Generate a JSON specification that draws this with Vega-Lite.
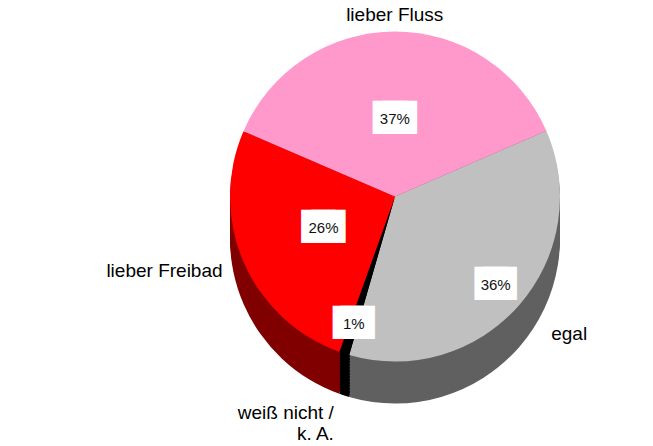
{
  "$schema": "https://vega.github.io/schema/vega-lite/v6.json",
  "width": 653,
  "height": 446,
  "autosize": {"type": "fit", "contains": "padding"},
  "padding": {"left": 137, "right": 0, "top": 0, "bottom": 42},
  "background": "white",
  "view": {"stroke": null},
  "config": {"font": "Liberation Sans"},
  "data": {"values": [
    {"cat": "egal", "idx": 0, "share": 0.36, "label": "egal"},
    {"cat": "weiß nicht", "idx": 1, "share": 0.01, "label": "weiß nicht /\nk. A."},
    {"cat": "lieber Freibad", "idx": 2, "share": 0.26, "label": "lieber Freibad"},
    {"cat": "lieber Fluss", "idx": 3, "share": 0.37, "label": "lieber Fluss"}
  ]},
  "encoding": {
    "theta": {"field": "share", "type": "quantitative", "stack": true, "scale": {"range": [1.161, 7.444]}},
    "order": {"field": "idx", "type": "quantitative"},
    "detail": {"field": "cat", "type": "nominal"}
  },
  "layer": [
    {"mark": {"type": "arc", "radius": 165, "yOffset": 42}, "encoding": {"fill": {"field": "cat", "type": "nominal", "legend": null, "scale": {"domain": ["egal", "weiß nicht", "lieber Freibad", "lieber Fluss"], "range": ["#606060", "#000000", "#800000", "#804d66"]}}}},
    {"mark": {"type": "arc", "radius": 165, "yOffset": 39}, "encoding": {"fill": {"field": "cat", "type": "nominal", "legend": null}}},
    {"mark": {"type": "arc", "radius": 165, "yOffset": 36}, "encoding": {"fill": {"field": "cat", "type": "nominal", "legend": null}}},
    {"mark": {"type": "arc", "radius": 165, "yOffset": 33}, "encoding": {"fill": {"field": "cat", "type": "nominal", "legend": null}}},
    {"mark": {"type": "arc", "radius": 165, "yOffset": 30}, "encoding": {"fill": {"field": "cat", "type": "nominal", "legend": null}}},
    {"mark": {"type": "arc", "radius": 165, "yOffset": 27}, "encoding": {"fill": {"field": "cat", "type": "nominal", "legend": null}}},
    {"mark": {"type": "arc", "radius": 165, "yOffset": 24}, "encoding": {"fill": {"field": "cat", "type": "nominal", "legend": null}}},
    {"mark": {"type": "arc", "radius": 165, "yOffset": 21}, "encoding": {"fill": {"field": "cat", "type": "nominal", "legend": null}}},
    {"mark": {"type": "arc", "radius": 165, "yOffset": 18}, "encoding": {"fill": {"field": "cat", "type": "nominal", "legend": null}}},
    {"mark": {"type": "arc", "radius": 165, "yOffset": 15}, "encoding": {"fill": {"field": "cat", "type": "nominal", "legend": null}}},
    {"mark": {"type": "arc", "radius": 165, "yOffset": 12}, "encoding": {"fill": {"field": "cat", "type": "nominal", "legend": null}}},
    {"mark": {"type": "arc", "radius": 165, "yOffset": 9}, "encoding": {"fill": {"field": "cat", "type": "nominal", "legend": null}}},
    {"mark": {"type": "arc", "radius": 165, "yOffset": 6}, "encoding": {"fill": {"field": "cat", "type": "nominal", "legend": null}}},
    {"mark": {"type": "arc", "radius": 165, "yOffset": 3}, "encoding": {"fill": {"field": "cat", "type": "nominal", "legend": null}}},
    {"mark": {"type": "arc", "radius": 165}, "encoding": {"color": {"field": "cat", "type": "nominal", "legend": null, "scale": {"domain": ["egal", "weiß nicht", "lieber Freibad", "lieber Fluss"], "range": ["#c0c0c0", "#000000", "#ff0000", "#ff99cc"]}}}},
    {"mark": {"type": "text", "radius": 78, "font": "DejaVu Sans Mono", "fontSize": 28, "dx": -5, "baseline": "middle", "align": "center", "fill": "white"},
     "encoding": {"text": {"condition": {"test": "datum.idx >= 2", "value": "██"}, "value": ""}}},
    {"mark": {"type": "text", "radius": 78, "font": "DejaVu Sans Mono", "fontSize": 28, "dx": 5, "baseline": "middle", "align": "center", "fill": "white"},
     "encoding": {"text": {"condition": {"test": "datum.idx >= 2", "value": "██"}, "value": ""}}},
    {"mark": {"type": "text", "radius": 78, "fontSize": 15, "baseline": "middle", "align": "center", "fill": "#111111"},
     "encoding": {"text": {"condition": {"test": "datum.idx >= 2", "field": "share", "type": "quantitative", "format": ".0%"}, "value": ""}}},
    {"mark": {"type": "text", "radius": 134, "font": "DejaVu Sans Mono", "fontSize": 28, "dx": -4, "baseline": "middle", "align": "center", "fill": "white"},
     "encoding": {"text": {"condition": {"test": "datum.idx < 2", "value": "██"}, "value": ""}}},
    {"mark": {"type": "text", "radius": 134, "font": "DejaVu Sans Mono", "fontSize": 28, "dx": 4, "baseline": "middle", "align": "center", "fill": "white"},
     "encoding": {"text": {"condition": {"test": "datum.idx < 2", "value": "██"}, "value": ""}}},
    {"mark": {"type": "text", "radius": 134, "fontSize": 15, "baseline": "middle", "align": "center", "fill": "#111111"},
     "encoding": {"text": {"condition": {"test": "datum.idx < 2", "field": "share", "type": "quantitative", "format": ".0%"}, "value": ""}}},
    {"mark": {"type": "text", "radius": 182, "fontSize": 19, "baseline": "middle", "align": "center", "fill": "black"},
     "encoding": {"text": {"condition": {"test": "datum.idx == 3", "field": "label"}, "value": ""}}},
    {"mark": {"type": "text", "radius": 208, "fontSize": 19, "baseline": "middle", "align": "left", "fill": "black"},
     "encoding": {"text": {"condition": {"test": "datum.idx == 0", "field": "label"}, "value": ""}}},
    {"mark": {"type": "text", "radius": 188, "fontSize": 19, "baseline": "middle", "align": "right", "fill": "black"},
     "encoding": {"text": {"condition": {"test": "datum.idx == 2", "field": "label"}, "value": ""}}},
    {"mark": {"type": "text", "radius": 228, "dx": 9, "fontSize": 19, "baseline": "middle", "align": "right", "fill": "black", "lineBreak": "\n"},
     "encoding": {"text": {"condition": {"test": "datum.idx == 1", "field": "label"}, "value": ""}}}
  ]
}
